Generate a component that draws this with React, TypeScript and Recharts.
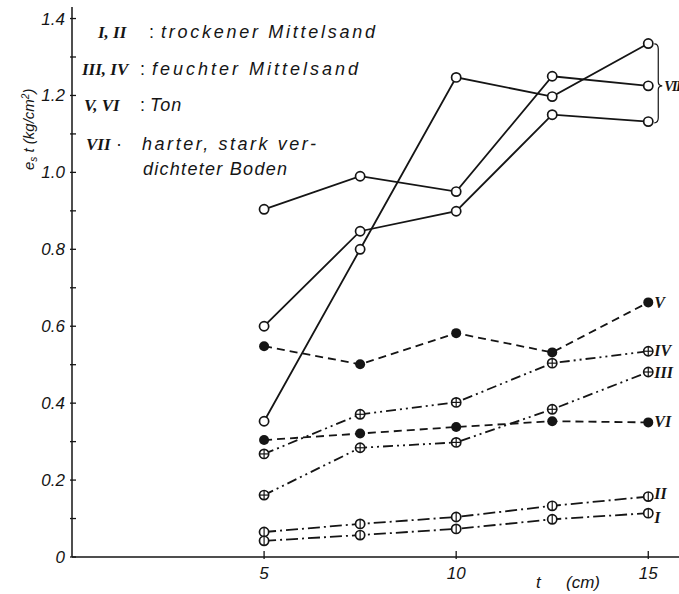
import { LineChart, Line, XAxis, YAxis, LabelList, Customized } from 'recharts'

// layer thickness t in cm
const T_CM = [5, 7.5, 10, 12.5, 15]

// e_s·t in kg/cm² per soil sample
const I_VALUES = [0.042, 0.057, 0.073, 0.098, 0.114]
const II_VALUES = [0.065, 0.086, 0.104, 0.133, 0.157]
const III_VALUES = [0.161, 0.284, 0.298, 0.384, 0.481]
const IV_VALUES = [0.268, 0.371, 0.402, 0.504, 0.535]
const V_VALUES = [0.548, 0.501, 0.582, 0.532, 0.662]
const VI_VALUES = [0.304, 0.321, 0.338, 0.353, 0.35]
const VII_A_VALUES = [0.904, 0.99, 0.95, 1.25, 1.225]
const VII_B_VALUES = [0.6, 0.847, 0.899, 1.15, 1.132]
const VII_C_VALUES = [0.353, 0.8, 1.247, 1.197, 1.335]

const X_TICKS = [5, 10, 15]
const Y_MAJOR = [0, 0.2, 0.4, 0.6, 0.8, 1.0, 1.2, 1.4]
const Y_MINOR = [0.1, 0.3, 0.5, 0.7, 0.9, 1.1, 1.3]
const Y_TICK_LABELS = ['0', '0.2', '0.4', '0.6', '0.8', '1.0', '1.2', '1.4']

const INK = '#151515'
const SANS = '"Liberation Sans", "DejaVu Sans", sans-serif'
const ROMAN = '"Liberation Serif", "DejaVu Serif", serif'

type DotKind = 'open' | 'filled' | 'cross' | 'bar'

const SERIES: { key: string; values: number[]; dot: DotKind; dash?: string; tag?: string; tagDy?: number }[] = [
  { key: 'VIIa', values: VII_A_VALUES, dot: 'open', tag: 'brace' },
  { key: 'VIIb', values: VII_B_VALUES, dot: 'open' },
  { key: 'VIIc', values: VII_C_VALUES, dot: 'open' },
  { key: 'V', values: V_VALUES, dot: 'filled', dash: '8 5', tag: 'V', tagDy: 0 },
  { key: 'VI', values: VI_VALUES, dot: 'filled', dash: '8 5', tag: 'VI', tagDy: -1 },
  { key: 'IV', values: IV_VALUES, dot: 'cross', dash: '10 4 2 4 2 4', tag: 'IV', tagDy: -1 },
  { key: 'III', values: III_VALUES, dot: 'cross', dash: '10 4 2 4 2 4', tag: 'III', tagDy: 0 },
  { key: 'II', values: II_VALUES, dot: 'bar', dash: '12 4 2 4', tag: 'II', tagDy: -4 },
  { key: 'I', values: I_VALUES, dot: 'bar', dash: '12 4 2 4', tag: 'I', tagDy: 4 },
]

const data = T_CM.map((t, i) => {
  const row: Record<string, number> = { t }
  SERIES.forEach((s) => {
    row[s.key] = s.values[i]
  })
  return row
})

const makeDot = (kind: DotKind) => (props: any) => {
  const { cx, cy, index } = props
  const k = `${kind}-${index}`
  if (cx == null || cy == null) return <g key={k} />
  if (kind === 'filled') return <circle key={k} cx={cx} cy={cy} r={5} fill={INK} />
  const r = 4.6
  return (
    <g key={k}>
      <circle cx={cx} cy={cy} r={r} fill="#fff" stroke={INK} strokeWidth={1.7} />
      {(kind === 'bar' || kind === 'cross') && (
        <line x1={cx} x2={cx} y1={cy - r} y2={cy + r} stroke={INK} strokeWidth={1.2} />
      )}
      {kind === 'cross' && (
        <line x1={cx - r} x2={cx + r} y1={cy} y2={cy} stroke={INK} strokeWidth={1.2} />
      )}
    </g>
  )
}

const endLabel = (tag?: string, tagDy = 0) => (props: any) => {
  const { x, y, index } = props
  if (!tag || index !== T_CM.length - 1) return null
  if (tag === 'brace') {
    // curly bracket spanning the three end points of group VII
    const x0 = x + 6
    const top = y - 42
    const bot = y + 37
    const mid = y
    const d = `M${x0},${top} Q${x0 + 4},${top} ${x0 + 4},${top + 5} L${x0 + 4},${mid - 4} Q${x0 + 4},${mid} ${x0 + 8},${mid} Q${x0 + 4},${mid} ${x0 + 4},${mid + 4} L${x0 + 4},${bot - 5} Q${x0 + 4},${bot} ${x0},${bot}`
    return (
      <g>
        <path d={d} fill="none" stroke={INK} strokeWidth={1.2} />
        <text x={x0 + 10} y={mid + 5} fontFamily={ROMAN} fontStyle="italic" fontWeight="bold" fontSize={14} letterSpacing={-1.5} fill={INK}>
          VII
        </text>
      </g>
    )
  }
  return (
    <text x={x + 6} y={y + 6 + tagDy} fontFamily={ROMAN} fontStyle="italic" fontWeight="bold" fontSize={16} fill={INK}>
      {tag}
    </text>
  )
}

const YTick = (props: any) => {
  const { x, y, payload } = props
  const idx = Y_MAJOR.findIndex((v) => Math.abs(v - payload.value) < 1e-6)
  return (
    <g>
      <line x1={x} x2={x + 6} y1={y} y2={y} stroke={INK} strokeWidth={1.3} />
      {idx >= 0 && (
        <text x={x - 5} y={y + 6} textAnchor="end" fontFamily={SANS} fontStyle="italic" fontSize={17} fill={INK}>
          {Y_TICK_LABELS[idx]}
        </text>
      )}
    </g>
  )
}

const XTick = (props: any) => {
  const { x, y, payload } = props
  return (
    <g>
      <line x1={x} x2={x} y1={y} y2={y - 8} stroke={INK} strokeWidth={1.3} />
      <text x={x} y={y + 20} textAnchor="middle" fontFamily={SANS} fontStyle="italic" fontSize={17} fill={INK}>
        {payload.value}
      </text>
    </g>
  )
}

// legend block: numerals, separator and description
const LEGEND = [
  { y: 38, num: 'I, II', nx: 98, sep: ':', sx: 149, text: 'trockener Mittelsand', tx: 161, tw: 214 },
  { y: 75, num: 'III, IV', nx: 82, sep: ':', sx: 140, text: 'feuchter Mittelsand', tx: 152, tw: 206 },
  { y: 111, num: 'V, VI', nx: 84, sep: ':', sx: 140, text: 'Ton', tx: 150, tw: 0 },
  { y: 150, num: 'VII', nx: 86, sep: '·', sx: 116, text: 'harter, stark ver-', tx: 142, tw: 174 },
  { y: 175, num: '', nx: 0, sep: '', sx: 0, text: 'dichteter Boden', tx: 143, tw: 144 },
]

const Annotations = () => (
  <g fill={INK}>
    {LEGEND.map((row) => (
      <g key={row.y}>
        {row.num && (
          <text x={row.nx} y={row.y} fontFamily={ROMAN} fontStyle="italic" fontWeight="bold" fontSize={17}>
            {row.num}
          </text>
        )}
        {row.sep && (
          <text x={row.sx} y={row.y} fontFamily={SANS} fontSize={18}>
            {row.sep}
          </text>
        )}
        <text
          x={row.tx}
          y={row.y}
          fontFamily={SANS}
          fontStyle="italic"
          fontSize={18}
          letterSpacing={row.tw ? undefined : 1}
          textLength={row.tw || undefined}
          lengthAdjust="spacing"
        >
          {row.text}
        </text>
      </g>
    ))}
    <text transform="translate(34,170) rotate(-90)" fontFamily={SANS} fontStyle="italic" fontSize={15}>
      <tspan>e</tspan>
      <tspan fontSize={10} dy={3}>s</tspan>
      <tspan dy={-3}> t    (</tspan>
      <tspan>kg/cm</tspan>
      <tspan fontSize={10} dy={-5}>2</tspan>
      <tspan dy={5}>)</tspan>
    </text>
    <text x={536} y={588} fontFamily={SANS} fontStyle="italic" fontSize={17}>
      t
    </text>
    <text x={566} y={588} fontFamily={SANS} fontStyle="italic" fontSize={17}>
      (cm)
    </text>
  </g>
)

export default function App() {
  return (
    <div style={{ width: 679, height: 594, background: '#fff' }}>
      <style>{'body { margin: 0; }'}</style>
      <LineChart width={679} height={594} data={data} margin={{ top: 7, right: 0, bottom: 0, left: 0 }}>
        <XAxis
          dataKey="t"
          type="number"
          domain={[0, 15.8]}
          allowDataOverflow
          ticks={X_TICKS}
          interval={0}
          height={37}
          tickSize={0}
          tickLine={false}
          tick={<XTick />}
          axisLine={{ stroke: INK, strokeWidth: 1.5 }}
        />
        <YAxis
          type="number"
          domain={[0, 1.43]}
          allowDataOverflow
          ticks={[...Y_MAJOR, ...Y_MINOR].sort((a, b) => a - b)}
          interval={0}
          width={72}
          tickSize={0}
          tickLine={false}
          tick={<YTick />}
          axisLine={{ stroke: INK, strokeWidth: 1.5 }}
        />
        {SERIES.map((s) => (
          <Line
            key={s.key}
            dataKey={s.key}
            type="linear"
            stroke={INK}
            strokeWidth={1.8}
            strokeDasharray={s.dash}
            dot={makeDot(s.dot)}
            activeDot={false}
            isAnimationActive={false}
          >
            <LabelList dataKey={s.key} content={endLabel(s.tag, s.tagDy)} />
          </Line>
        ))}
        <Customized component={<Annotations />} />
      </LineChart>
    </div>
  )
}
